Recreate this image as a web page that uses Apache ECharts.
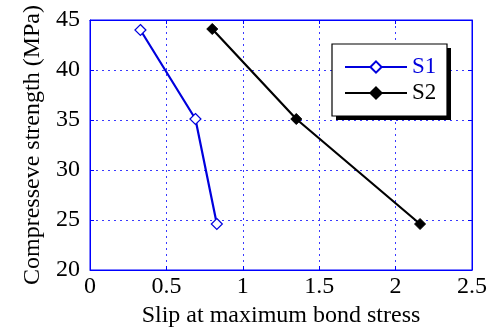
<!DOCTYPE html>
<html>
<head>
<meta charset="utf-8">
<script src="https://cdn.jsdelivr.net/npm/echarts@6/dist/echarts.min.js"></script>
<style>
  html, body { margin: 0; padding: 0; background: #fff; }
  #chart { width: 499px; height: 327px; }
</style>
</head>
<body>
<div id="chart"></div>
<script>
// Slip at maximum bond stress vs. compressive strength
const s1Slip = [0.33, 0.69, 0.83];
const s1Strength = [44.0, 35.1, 24.6];
const s2Slip = [0.80, 1.35, 2.16];
const s2Strength = [44.1, 35.1, 24.6];
const xTicks = [0, 0.5, 1, 1.5, 2, 2.5];
const yTicks = [20, 25, 30, 35, 40, 45];

const serifFace = 'Liberation Serif';
const frameBlue = '#0000ff';

const chart = echarts.init(document.getElementById('chart'), null, { renderer: 'canvas' });

const pair = (xs, ys) => xs.map((x, i) => [x, ys[i]]);

const splitStyle = { show: true, lineStyle: { color: '#3a3aff', type: [2, 4], width: 1 } };

// legend frame with a solid drop shadow
const box = { x: 332, y: 44, w: 115, h: 72, off: 4 };

chart.setOption({
  animation: false,
  backgroundColor: '#ffffff',
  grid: {
    left: 90, right: 27, top: 20, bottom: 57,
    outerBoundsMode: 'none', containLabel: false,
    show: true, borderColor: frameBlue, borderWidth: 1, backgroundColor: 'transparent'
  },
  graphic: [{
    type: 'rect', z: 90,
    shape: { x: box.x + box.off, y: box.y + box.off, width: box.w, height: box.h },
    style: { fill: '#000000' }
  }, {
    type: 'rect', z: 91,
    shape: { x: box.x, y: box.y, width: box.w, height: box.h },
    style: { fill: '#ffffff', stroke: '#000000', lineWidth: 1.2 }
  }],
  legend: {
    left: 344, top: 55,
    orient: 'vertical',
    itemWidth: 62, itemHeight: 14,
    itemGap: 2,
    padding: 0,
    z: 100,
    textStyle: { fontFamily: serifFace, fontSize: 23, lineHeight: 24 },
    data: [
      { name: 'S1', textStyle: { color: '#0000dd' } },
      { name: 'S2', textStyle: { color: '#000000' } }
    ]
  },
  xAxis: [{
    type: 'value', min: xTicks[0], max: xTicks[xTicks.length - 1], interval: 0.5,
    position: 'bottom',
    name: 'Slip at maximum bond stress', nameLocation: 'middle', nameGap: 28,
    nameTextStyle: { fontFamily: serifFace, fontSize: 24, color: '#000' },
    axisLine: { show: true, onZero: false, lineStyle: { color: frameBlue, width: 1 } },
    axisTick: { show: true, inside: true, length: 4, lineStyle: { color: frameBlue } },
    axisLabel: { fontFamily: serifFace, fontSize: 24, color: '#000', margin: 5,
      formatter: v => String(v) },
    splitLine: splitStyle
  }, {
    type: 'value', min: xTicks[0], max: xTicks[xTicks.length - 1], interval: 0.5,
    position: 'top',
    axisLine: { show: true, onZero: false, lineStyle: { color: frameBlue, width: 1 } },
    axisTick: { show: true, inside: true, length: 4, lineStyle: { color: frameBlue } },
    axisLabel: { show: false },
    splitLine: { show: false }
  }],
  yAxis: [{
    type: 'value', min: yTicks[0], max: yTicks[yTicks.length - 1], interval: 5,
    position: 'left',
    name: 'Compresseve strength (MPa)', nameLocation: 'middle', nameGap: 45,
    nameTextStyle: { fontFamily: serifFace, fontSize: 24, color: '#000' },
    axisLine: { show: true, onZero: false, lineStyle: { color: frameBlue, width: 1 } },
    axisTick: { show: true, inside: true, length: 4, lineStyle: { color: frameBlue } },
    axisLabel: { fontFamily: serifFace, fontSize: 24, color: '#000', margin: 10 },
    splitLine: splitStyle
  }, {
    type: 'value', min: yTicks[0], max: yTicks[yTicks.length - 1], interval: 5,
    position: 'right',
    axisLine: { show: true, onZero: false, lineStyle: { color: frameBlue, width: 1 } },
    axisTick: { show: true, inside: true, length: 4, lineStyle: { color: frameBlue } },
    axisLabel: { show: false },
    splitLine: { show: false }
  }],
  series: [{
    name: 'S1', type: 'line',
    data: pair(s1Slip, s1Strength),
    symbol: 'diamond', symbolSize: 11,
    lineStyle: { color: '#0000dd', width: 2.2 },
    itemStyle: { color: '#ffffff', borderColor: '#0000dd', borderWidth: 1.2 },
    z: 3
  }, {
    name: 'S2', type: 'line',
    data: pair(s2Slip, s2Strength),
    symbol: 'diamond', symbolSize: 11,
    lineStyle: { color: '#000000', width: 2.2 },
    itemStyle: { color: '#000000', borderColor: '#000000', borderWidth: 1 },
    z: 3
  }]
});
</script>
</body>
</html>
